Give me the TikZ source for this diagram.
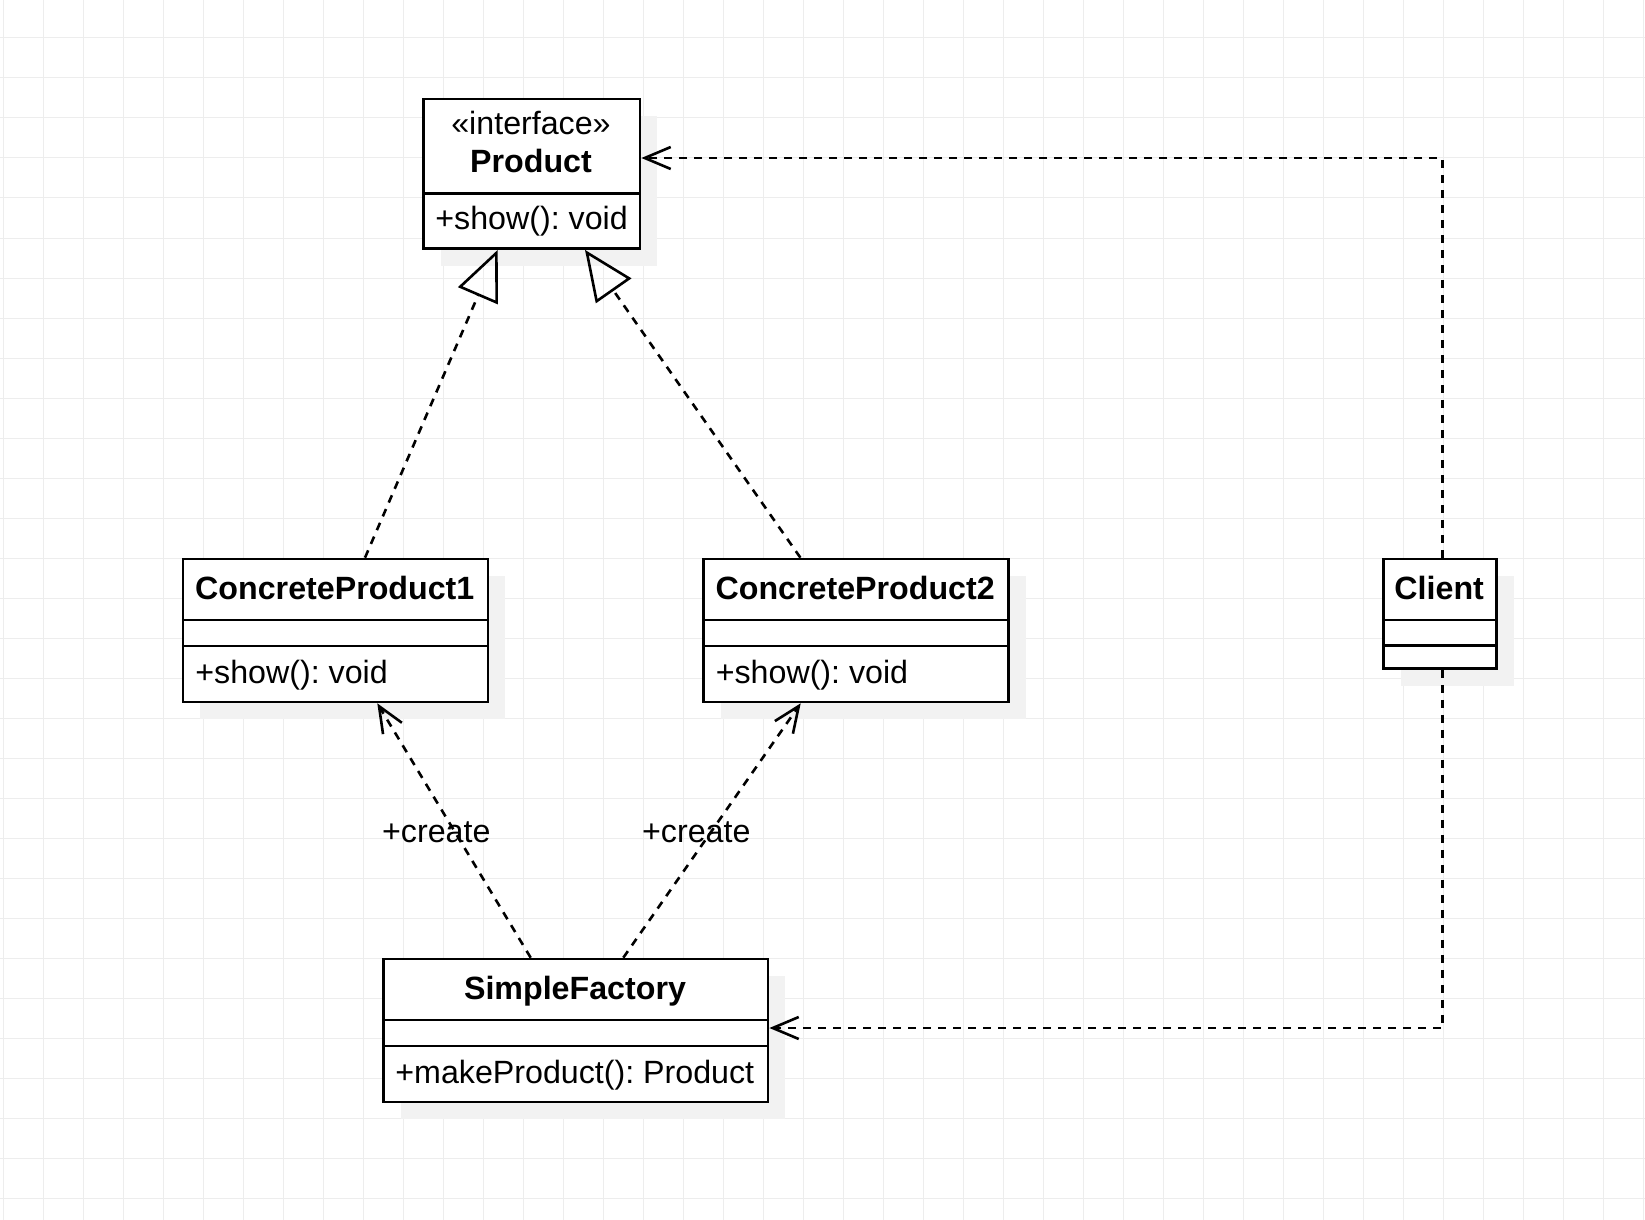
\documentclass[tikz,border=0pt]{standalone}
\usepackage{fontspec}
\setmainfont{Liberation Sans}
\usetikzlibrary{arrows.meta,calc,shadows}
\definecolor{gridcol}{HTML}{EDEDED}
\definecolor{shadowcol}{HTML}{F2F2F2}
\frenchspacing

\begin{document}
\begin{tikzpicture}[x=0.5pt,y=-0.5pt,
  font=\fontsize{16.1pt}{19pt}\selectfont,
  gridline/.style={draw=gridcol,line width=0.5pt},
  umlbox/.style={draw=black,fill=white,line width=1.3pt,inner sep=0pt,anchor=north west,
    drop shadow={shadow xshift=8.5pt,shadow yshift=-8.5pt,fill=shadowcol,opacity=1}},
  sepline/.style={line width=1.3pt},
  lbl/.style={inner sep=0pt,anchor=base},
  lblw/.style={inner sep=0pt,anchor=base west},
  realize/.style={line width=1.3pt,dash pattern=on 4pt off 3.5pt,
    -{Triangle[open,length=25pt,width=21.5pt]}},
  depend/.style={line width=1.3pt,dash pattern=on 4pt off 3.5pt,
    -{Straight Barb[length=13pt,width=11pt]}},
]
\useasboundingbox (0,0) rectangle (1645,1220);
\fill[white] (0,0) rectangle (1645,1220);

% background grid
\foreach \gx in {3,43,...,1643} \draw[gridline] (\gx,0) -- (\gx,1220);
\foreach \gy in {38,78,...,1198} \draw[gridline] (0,\gy) -- (1645,\gy);

% class boxes
\node[umlbox,minimum width=108.3pt,minimum height=74.8pt] (prod) at (422.2,97.7) {};
\node[umlbox,minimum width=152.5pt,minimum height=71.5pt] (cp1) at (181.8,557.7) {};
\node[umlbox,minimum width=152.5pt,minimum height=71.5pt] (cp2) at (702.2,557.7) {};
\node[umlbox,minimum width=56.5pt,minimum height=54.8pt] (client) at (1382.2,557.7) {};
\node[umlbox,minimum width=192.3pt,minimum height=71.5pt] (sf) at (382.2,957.7) {};

% compartment separators
\draw[sepline] ($(prod.north west)+(0,95.6)$) -- ($(prod.north east)+(0,95.6)$);
\draw[sepline] ($(cp1.north west)+(0,62.3)$) -- ($(cp1.north east)+(0,62.3)$);
\draw[sepline] ($(cp1.north west)+(0,88.3)$) -- ($(cp1.north east)+(0,88.3)$);
\draw[sepline] ($(cp2.north west)+(0,62.3)$) -- ($(cp2.north east)+(0,62.3)$);
\draw[sepline] ($(cp2.north west)+(0,88.3)$) -- ($(cp2.north east)+(0,88.3)$);
\draw[sepline] ($(client.north west)+(0,62.3)$) -- ($(client.north east)+(0,62.3)$);
\draw[sepline] ($(client.north west)+(0,87.6)$) -- ($(client.north east)+(0,87.6)$);
\draw[sepline] ($(sf.north west)+(0,62.3)$) -- ($(sf.north east)+(0,62.3)$);
\draw[sepline] ($(sf.north west)+(0,88.3)$) -- ($(sf.north east)+(0,88.3)$);

% realizations of the interface
\draw[realize] ($(cp1.north west)+(183.2,0)$) -- ($(prod.south west)+(75.5,0)$);
\draw[realize] ($(cp2.north west)+(98.2,0)$) -- ($(prod.south west)+(162.8,0)$);

% factory creates the products
\draw[depend] ($(sf.north west)+(148.5,0)$) -- ($(cp1.south west)+(195.5,0)$);
\draw[depend] ($(sf.north west)+(241.1,0)$) -- ($(cp2.south west)+(98.5,0)$);

% client dependencies
\draw[depend] ($(client.north west)+(60.5,0)$) |- ($(prod.north east)+(0,60.3)$);
\draw[depend] ($(client.south west)+(60.5,0)$) |- ($(sf.north east)+(0,70.3)$);

% texts
\node[lbl] (prodst) at (531,134.3) {«interface»};
\node[lbl] (prodname) at (531,172.2) {\bfseries Product};
\node[lblw] (prodop) at (435,229.7) {+show(): void};

\node[lbl] (cp1name) at (334.8,599.8) {\bfseries ConcreteProduct1};
\node[lblw] (cp1op) at (195,683.2) {+show(): void};

\node[lbl] (cp2name) at (855.2,599.8) {\bfseries ConcreteProduct2};
\node[lblw] (cp2op) at (715.4,683.2) {+show(): void};

\node[lbl] (clientname) at (1439.2,599.3) {\bfseries Client};

\node[lbl] (sfname) at (575,999.8) {\bfseries SimpleFactory};
\node[lblw] (sfop) at (395,1083.2) {+makeProduct(): Product};

\node[lbl] (create1) at (436.3,842.7) {+create};
\node[lbl] (create2) at (696.3,842.7) {+create};
\end{tikzpicture}
\end{document}
